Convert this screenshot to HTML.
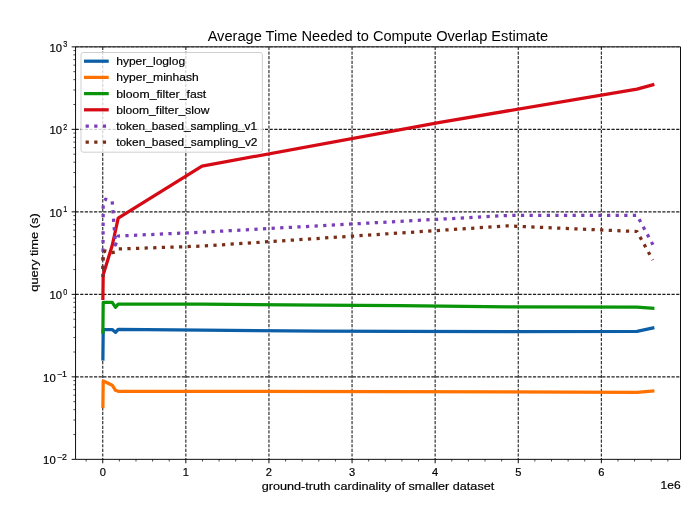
<!DOCTYPE html>
<html><head><meta charset="utf-8"><style>
html,body{margin:0;padding:0;background:#fff;}
svg{display:block;will-change:transform;}
text{font-family:"Liberation Sans", sans-serif;fill:#000;stroke:#000;stroke-width:0.18px;}
</style></head><body>
<svg width="700" height="519" viewBox="0 0 700 519">
<defs><clipPath id="ax"><rect x="75.55" y="46.85" width="604.95" height="412.50"/></clipPath></defs>
<rect width="700" height="519" fill="#fff"/>
<path d="M102.75 46.85V459.35 M185.85 46.85V459.35 M268.95 46.85V459.35 M352.05 46.85V459.35 M435.15 46.85V459.35 M518.25 46.85V459.35 M601.35 46.85V459.35 M75.55 376.85H680.50 M75.55 294.35H680.50 M75.55 211.85H680.50 M75.55 129.35H680.50" stroke="#000" stroke-width="1.1" stroke-dasharray="3.2 1.42" stroke-opacity="0.88" fill="none"/>
<path d="M75.55 46.85H680.50" stroke="#000" stroke-width="1.1" stroke-dasharray="3.2 1.42" stroke-opacity="0.45" fill="none"/>
<g clip-path="url(#ax)">
<path d="M102.90 359.00 L103.20 329.50 L105.60 329.50 L112.20 329.50 L115.50 332.40 L118.20 329.40 L202.00 330.10 L320.00 331.10 L400.00 331.40 L507.00 331.60 L637.00 331.40 L652.80 328.00" fill="none" stroke="#0c5fa6" stroke-width="3.25" stroke-linecap="square" stroke-linejoin="round"/>
<path d="M102.90 406.50 L103.20 381.00 L105.60 382.00 L112.20 385.20 L115.50 390.30 L118.20 391.30 L202.00 391.40 L507.00 391.80 L637.00 392.30 L652.80 391.00" fill="none" stroke="#ff7200" stroke-width="3.25" stroke-linecap="square" stroke-linejoin="round"/>
<path d="M102.90 332.20 L103.20 302.30 L105.60 302.30 L112.20 302.30 L115.50 307.30 L118.20 304.10 L202.00 304.10 L320.00 305.20 L400.00 305.60 L507.00 306.80 L637.00 307.10 L652.80 308.20" fill="none" stroke="#099409" stroke-width="3.25" stroke-linecap="square" stroke-linejoin="round"/>
<path d="M102.90 298.30 L103.20 274.80 L105.60 267.00 L112.20 245.50 L115.50 230.50 L118.20 218.20 L202.00 166.10 L440.00 122.30 L637.00 89.10 L652.80 84.80" fill="none" stroke="#d60a14" stroke-width="3.25" stroke-linecap="square" stroke-linejoin="round"/>
<path d="M102.90 275.00 L103.20 203.00 L105.60 199.20 L112.20 201.40 L115.50 245.00 L118.20 236.00 L202.00 232.20 L507.00 215.50 L637.00 215.30 L653.50 245.80" fill="none" stroke="#7a3eba" stroke-width="3.25" stroke-dasharray="3.25 5.36" stroke-dashoffset="2.6" stroke-linecap="butt" stroke-linejoin="round"/>
<path d="M102.90 277.00 L103.20 252.00 L105.60 251.00 L112.20 252.60 L115.50 252.00 L118.20 249.00 L202.00 246.10 L507.00 225.90 L637.00 231.50 L652.80 260.00" fill="none" stroke="#7a2e18" stroke-width="3.25" stroke-dasharray="3.25 5.36" stroke-dashoffset="0.7" stroke-linecap="butt" stroke-linejoin="round"/>
</g>
<path d="M75.55 46.85H680.5V459.35H75.55Z" fill="none" stroke="#000" stroke-width="0.95" stroke-linejoin="miter"/>
<path d="M102.75 459.35v3.9 M185.85 459.35v3.9 M268.95 459.35v3.9 M352.05 459.35v3.9 M435.15 459.35v3.9 M518.25 459.35v3.9 M601.35 459.35v3.9" stroke="#000" stroke-width="0.95"/>
<path d="M86.13 459.35v2.2 M119.37 459.35v2.2 M135.99 459.35v2.2 M152.61 459.35v2.2 M169.23 459.35v2.2 M202.47 459.35v2.2 M219.09 459.35v2.2 M235.71 459.35v2.2 M252.33 459.35v2.2 M285.57 459.35v2.2 M302.19 459.35v2.2 M318.81 459.35v2.2 M335.43 459.35v2.2 M368.67 459.35v2.2 M385.29 459.35v2.2 M401.91 459.35v2.2 M418.53 459.35v2.2 M451.77 459.35v2.2 M468.39 459.35v2.2 M485.01 459.35v2.2 M501.63 459.35v2.2 M534.87 459.35v2.2 M551.49 459.35v2.2 M568.11 459.35v2.2 M584.73 459.35v2.2 M617.97 459.35v2.2 M634.59 459.35v2.2 M651.21 459.35v2.2 M667.83 459.35v2.2" stroke="#000" stroke-width="0.7"/>
<path d="M75.55 459.35h-3.9 M75.55 376.85h-3.9 M75.55 294.35h-3.9 M75.55 211.85h-3.9 M75.55 129.35h-3.9 M75.55 46.85h-3.9" stroke="#000" stroke-width="0.95"/>
<path d="M75.55 434.52h-2.2 M75.55 419.99h-2.2 M75.55 409.68h-2.2 M75.55 401.68h-2.2 M75.55 395.15h-2.2 M75.55 389.63h-2.2 M75.55 384.85h-2.2 M75.55 380.62h-2.2 M75.55 352.02h-2.2 M75.55 337.49h-2.2 M75.55 327.18h-2.2 M75.55 319.18h-2.2 M75.55 312.65h-2.2 M75.55 307.13h-2.2 M75.55 302.35h-2.2 M75.55 298.12h-2.2 M75.55 269.52h-2.2 M75.55 254.99h-2.2 M75.55 244.68h-2.2 M75.55 236.68h-2.2 M75.55 230.15h-2.2 M75.55 224.63h-2.2 M75.55 219.85h-2.2 M75.55 215.62h-2.2 M75.55 187.02h-2.2 M75.55 172.49h-2.2 M75.55 162.18h-2.2 M75.55 154.18h-2.2 M75.55 147.65h-2.2 M75.55 142.13h-2.2 M75.55 137.35h-2.2 M75.55 133.12h-2.2 M75.55 104.52h-2.2 M75.55 89.99h-2.2 M75.55 79.68h-2.2 M75.55 71.68h-2.2 M75.55 65.15h-2.2 M75.55 59.63h-2.2 M75.55 54.85h-2.2 M75.55 50.62h-2.2" stroke="#000" stroke-width="0.7"/>
<text x="102.75" y="475.5" text-anchor="middle" font-size="11.1">0</text>
<text x="185.85" y="475.5" text-anchor="middle" font-size="11.1">1</text>
<text x="268.95" y="475.5" text-anchor="middle" font-size="11.1">2</text>
<text x="352.05" y="475.5" text-anchor="middle" font-size="11.1">3</text>
<text x="435.15" y="475.5" text-anchor="middle" font-size="11.1">4</text>
<text x="518.25" y="475.5" text-anchor="middle" font-size="11.1">5</text>
<text x="601.35" y="475.5" text-anchor="middle" font-size="11.1">6</text>
<text x="43.10" y="464.15" font-size="11.2" textLength="12.6" lengthAdjust="spacingAndGlyphs">10</text>
<text x="57.00" y="459.85" font-size="8.6" textLength="10.0" lengthAdjust="spacingAndGlyphs">−2</text>
<text x="43.10" y="381.65" font-size="11.2" textLength="12.6" lengthAdjust="spacingAndGlyphs">10</text>
<text x="57.00" y="377.35" font-size="8.6" textLength="10.0" lengthAdjust="spacingAndGlyphs">−1</text>
<text x="49.40" y="299.15" font-size="11.2" textLength="12.6" lengthAdjust="spacingAndGlyphs">10</text>
<text x="63.30" y="294.85" font-size="8.6" textLength="4.0" lengthAdjust="spacingAndGlyphs">0</text>
<text x="49.40" y="216.65" font-size="11.2" textLength="12.6" lengthAdjust="spacingAndGlyphs">10</text>
<text x="63.30" y="212.35" font-size="8.6" textLength="4.0" lengthAdjust="spacingAndGlyphs">1</text>
<text x="49.40" y="134.15" font-size="11.2" textLength="12.6" lengthAdjust="spacingAndGlyphs">10</text>
<text x="63.30" y="129.85" font-size="8.6" textLength="4.0" lengthAdjust="spacingAndGlyphs">2</text>
<text x="49.40" y="51.65" font-size="11.2" textLength="12.6" lengthAdjust="spacingAndGlyphs">10</text>
<text x="63.30" y="47.35" font-size="8.6" textLength="4.0" lengthAdjust="spacingAndGlyphs">3</text>
<text x="660.6" y="489.2" font-size="11.2" textLength="20" lengthAdjust="spacingAndGlyphs">1e6</text>
<text x="377.9" y="40.5" text-anchor="middle" font-size="14" style="stroke:none" textLength="340.5" lengthAdjust="spacingAndGlyphs">Average Time Needed to Compute Overlap Estimate</text>
<text x="378" y="490" text-anchor="middle" font-size="11.1" textLength="232.5" lengthAdjust="spacingAndGlyphs">ground-truth cardinality of smaller dataset</text>
<text transform="translate(38.0 252.5) rotate(-90)" text-anchor="middle" font-size="11.2" textLength="78.5" lengthAdjust="spacingAndGlyphs">query time (s)</text>
<rect x="81.0" y="52.5" width="181.40" height="99.70" rx="2.2" ry="2.2" fill="#fff" fill-opacity="0.8" stroke="#cccccc" stroke-width="0.95"/>
<path d="M85.6 61.20H107.1" stroke="#0c5fa6" stroke-width="3.25" stroke-linecap="square"/>
<text x="116.2" y="65.10" font-size="11.4" textLength="68.9" lengthAdjust="spacingAndGlyphs">hyper_loglog</text>
<path d="M85.6 77.40H107.1" stroke="#ff7200" stroke-width="3.25" stroke-linecap="square"/>
<text x="116.2" y="81.30" font-size="11.4" textLength="82.6" lengthAdjust="spacingAndGlyphs">hyper_minhash</text>
<path d="M85.6 93.60H107.1" stroke="#099409" stroke-width="3.25" stroke-linecap="square"/>
<text x="116.2" y="97.50" font-size="11.4" textLength="90.1" lengthAdjust="spacingAndGlyphs">bloom_filter_fast</text>
<path d="M85.6 109.80H107.1" stroke="#d60a14" stroke-width="3.25" stroke-linecap="square"/>
<text x="116.2" y="113.70" font-size="11.4" textLength="93.3" lengthAdjust="spacingAndGlyphs">bloom_filter_slow</text>
<path d="M85.6 126.00H107.8" stroke="#7a3eba" stroke-width="3.25" stroke-dasharray="3.25 5.36"/>
<text x="116.2" y="129.90" font-size="11.4" textLength="140.9" lengthAdjust="spacingAndGlyphs">token_based_sampling_v1</text>
<path d="M85.6 142.20H107.8" stroke="#7a2e18" stroke-width="3.25" stroke-dasharray="3.25 5.36"/>
<text x="116.2" y="146.10" font-size="11.4" textLength="141.3" lengthAdjust="spacingAndGlyphs">token_based_sampling_v2</text>
</svg></body></html>
